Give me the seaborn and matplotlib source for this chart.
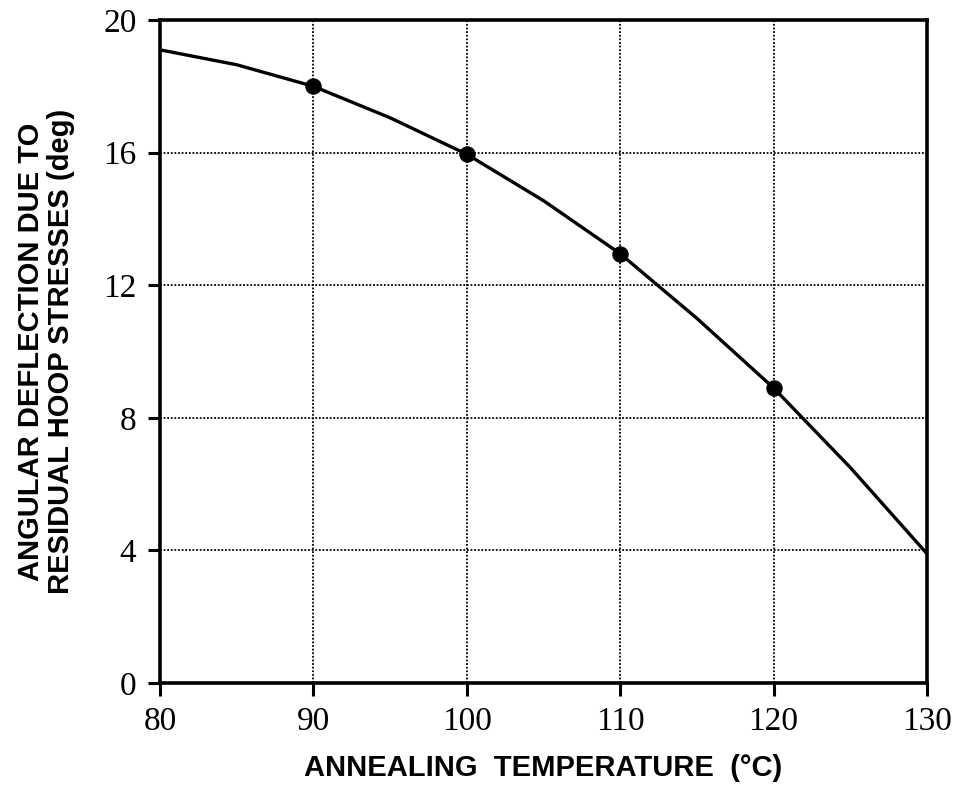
import matplotlib
matplotlib.use("Agg")
import matplotlib.pyplot as plt
import seaborn as sns
import pandas as pd

# curve
curve_temp = [80, 85, 90, 95, 100, 105, 110, 115, 120, 125, 130]
curve_defl = [19.1, 18.65, 18.0, 17.05, 15.95, 14.55, 12.95, 11.0, 8.9, 6.5, 3.9]
# measured points
point_temp = [90, 100, 110, 120]
point_defl = [18.0, 15.95, 12.95, 8.9]

x_ticks = [80, 90, 100, 110, 120, 130]
y_ticks = [0, 4, 8, 12, 16, 20]

sns.set_theme(style="white")
plt.rcParams['font.family'] = ['Liberation Serif', 'DejaVu Serif']
plt.rcParams['text.color'] = 'black'
plt.rcParams['xtick.color'] = 'black'
plt.rcParams['ytick.color'] = 'black'
plt.rcParams['axes.labelcolor'] = 'black'

fig = plt.figure(figsize=(9.57, 7.96), dpi=100)
ax = fig.add_axes([160/957, 1-683/796, (927-160)/957, (683-20)/796])

curve_df = pd.DataFrame({"temp": curve_temp, "defl": curve_defl})
pts_df = pd.DataFrame({"temp": point_temp, "defl": point_defl})

sns.lineplot(data=curve_df, x="temp", y="defl", ax=ax, color="black", lw=2.4)
sns.scatterplot(data=pts_df, x="temp", y="defl", ax=ax, color="black", s=120,
                edgecolor="black", zorder=5)

ax.set_xlim(80, 130)
ax.set_ylim(0, 20)
ax.set_xticks(x_ticks)
ax.set_yticks(y_ticks)
ax.grid(True, color="black", linestyle=(0, (1, 1)), lw=1.3)
for s in ax.spines.values():
    s.set_color("black")
    s.set_linewidth(2.6)
ax.tick_params(axis="both", direction="out", length=9, width=2.2, colors="black",
               labelsize=24, pad=8, bottom=True, left=True)
for lab in ax.get_xticklabels() + ax.get_yticklabels():
    lab.set_fontfamily("Liberation Serif")

ax.set_xlabel("ANNEALING  TEMPERATURE  (°C)", fontfamily="Liberation Sans",
              fontweight="bold", fontsize=21, labelpad=12, color="black")
ax.set_ylabel("ANGULAR DEFLECTION DUE TO\nRESIDUAL HOOP STRESSES (deg)",
              fontfamily="Liberation Sans", fontweight="bold", fontsize=21,
              labelpad=20, linespacing=1.1, color="black")

fig.savefig("out.png", dpi=100, facecolor="white")
